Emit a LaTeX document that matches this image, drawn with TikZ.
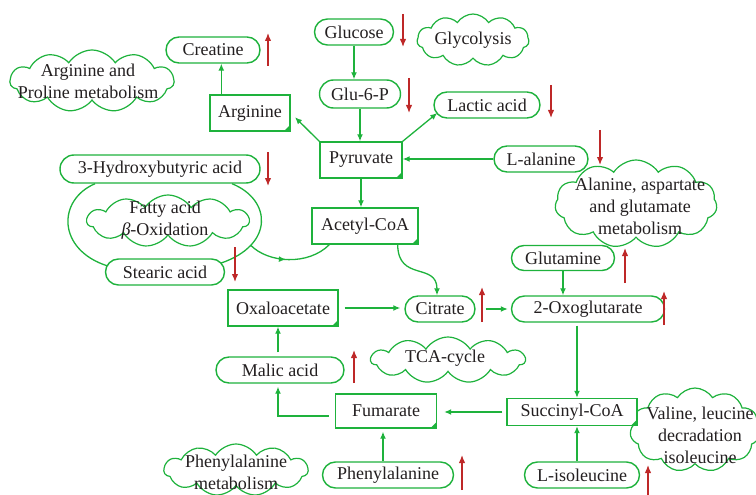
\documentclass[tikz,border=0pt]{standalone}
\usepackage{fontspec}
\setmainfont{Liberation Serif}
\usetikzlibrary{shapes.misc,shapes.symbols,shapes.geometric,arrows.meta,calc,decorations.markings,backgrounds}
\definecolor{grn}{RGB}{30,178,60}
\definecolor{rd}{RGB}{190,40,40}
\definecolor{txt}{RGB}{35,31,32}
\begin{document}
\begin{tikzpicture}[x=1pt,y=-1pt, font=\fontsize{18}{22}\selectfont, text=txt,
 pill/.style={rounded rectangle, draw=grn, line width=1.4pt, fill=white, minimum height=26pt, inner sep=2pt},
 box/.style={rectangle, draw=grn, line width=1.4pt, fill=white, inner sep=2pt,
   path picture={\fill[grn] ([xshift=-6pt]path picture bounding box.south east) -- (path picture bounding box.south east) -- ([yshift=6pt]path picture bounding box.south east) -- cycle;}},
 cloudy/.style={cloud, cloud puffs=11, cloud puff arc=115, cloud ignores aspect, draw=grn, line width=1.2pt, fill=white, inner sep=0pt},
 ctext/.style={align=center, inner sep=0pt},
 garr/.style={draw=grn, line width=1.3pt, -{Latex[length=7pt,width=6pt]}},
 gline/.style={draw=grn, line width=1.3pt},
 rarr/.style={draw=rd, line width=1.3pt, -{Latex[length=8pt,width=6.5pt]}},
]
\useasboundingbox (0,0) rectangle (756,495);

% clouds
\node[cloudy, minimum width=112pt, minimum height=52pt] (cglyc) at (473,40) {};
\node[ctext] (tglyc) at (473,40) {Glycolysis};
\node[cloudy, minimum width=164pt, minimum height=62pt] (cargpro) at (92,81) {};
\node[ctext] (targpro) at (88,81) {Arginine and\\Proline metabolism};
\node[cloudy, minimum width=162pt, minimum height=52pt] (cfatty) at (168,221) {};
\node[ctext] (tfatty) at (165,220) {Fatty acid\\\textit{β}-Oxidation};
\node[cloudy, minimum width=162pt, minimum height=88pt] (calan) at (636,204) {};
\node[ctext] (talan) at (640,206) {Alanine, aspartate\\and glutamate\\metabolism};
\node[cloudy, minimum width=154pt, minimum height=46pt] (ctca) at (448,360) {};
\node[ctext] (ttca) at (445,358) {TCA-cycle};
\node[cloudy, minimum width=130pt, minimum height=84pt] (cval) at (695,430) {};
\node[ctext] (tval) at (700,435) {Valine, leucine\\decradation\\isoleucine};
\node[cloudy, minimum width=144pt, minimum height=52pt] (cphe) at (236,470) {};
\node[ctext] (tphe) at (236,472) {Phenylalanine\\metabolism};

% nodes
\node[pill, minimum width=83pt] (glucose) at (354,32) {Glucose};
\node[pill, minimum width=85pt, minimum height=28pt] (g6p) at (360,94) {Glu-6-P};
\node[pill, minimum width=110pt] (lactic) at (487,105) {Lactic acid};
\node[box, minimum width=82pt, minimum height=36pt] (pyruvate) at (361,160) {Pyruvate};
\node[pill, minimum width=98pt] (alanine) at (541,159) {L-alanine};
\node[pill, minimum width=98pt] (creatine) at (213,50) {Creatine};
\node[box, minimum width=80pt, minimum height=36pt] (arginine) at (250,113) {Arginine};
\node[box, minimum width=106pt, minimum height=36pt] (acetyl) at (365,226) {Acetyl-CoA};
\node[pill, minimum width=204pt, minimum height=28pt] (hydroxy) at (160,169) {3-Hydroxybutyric acid};
\node[pill, minimum width=123pt] (stearic) at (165,272) {Stearic acid};
\node[box, minimum width=110pt, minimum height=36pt] (oxalo) at (283,308) {Oxaloacetate};
\node[pill, minimum width=74pt] (citrate) at (440,309) {Citrate};
\node[pill, minimum width=157pt] (oxoglu) at (588,309) {2-Oxoglutarate};
\node[pill, minimum width=107pt, minimum height=25pt] (glutamine) at (563,258) {Glutamine};
\node[box, minimum width=130pt, minimum height=27pt] (succinyl) at (572,412) {Succinyl-CoA};
\node[box, minimum width=101pt, minimum height=34pt] (fumarate) at (386,411) {Fumarate};
\node[pill, minimum width=132pt] (malic) at (280,370) {Malic acid};
\node[pill, minimum width=135pt] (phenyl) at (388,475) {Phenylalanine};
\node[pill, minimum width=119pt] (isoleu) at (582,475) {L-isoleucine};

% fatty acid loop
\begin{scope}[on background layer]
\draw[gline] ($(hydroxy.south)+(-65,0)$) .. controls (57,200) and (57,250) .. ($(stearic.west)+(3,-6)$);
\draw[gline] ($(hydroxy.south)+(72,0)$) .. controls (272,200) and (274,245) .. coordinate[pos=0.75] (loopout) ($(stearic.east)+(-4,-9)$);
\end{scope}

% green connectors
\draw[garr] (glucose.south) -- (glucose.south |- g6p.north);
\draw[garr] (g6p.south) -- (g6p.south |- pyruvate.north);
\draw[garr, shorten >=6pt] (pyruvate.north west) -- (arginine.east);
\draw[garr] (pyruvate.north east) -- ($(lactic.west)+(4,8)$);
\draw[garr] (alanine.west) -- (alanine.west -| pyruvate.east);
\draw[garr] ($(arginine.north west)+(12,0)$) coordinate (a1) -- (a1 |- creatine.south);
\draw[garr] (pyruvate.south) -- (pyruvate.south |- acetyl.north);
\draw[gline, postaction={decorate}, decoration={markings, mark=at position 0.45 with {\arrow{Latex[length=7pt,width=6pt]}}}]
  (loopout) .. controls (268,263) and (308,266) .. ($(acetyl.south west)+(18,0)$);
\draw[garr] ($(acetyl.south east)+(-21,0)$) .. controls (398,282) and (437,262) .. ($(citrate.north)+(-3,0)$);
\draw[garr, shorten <=6pt, shorten >=4pt] (oxalo.east) -- (oxalo.east -| citrate.west);
\draw[garr, shorten <=10pt, shorten >=3pt] (citrate.east) -- (citrate.east -| oxoglu.west);
\draw[garr] (glutamine.south) -- (glutamine.south |- oxoglu.north);
\draw[garr, shorten <=3pt] ($(oxoglu.south)+(-11,0)$) coordinate (o1) -- (o1 |- succinyl.north);
\draw[garr, shorten <=4pt, shorten >=7pt] (succinyl.west) -- (succinyl.west -| fumarate.east);
\draw[garr] ($(isoleu.north)+(-5,0)$) coordinate (i1) -- (i1 |- succinyl.south);
\draw[garr, shorten >=3pt] ($(phenyl.north)+(-5,0)$) coordinate (p1) -- (p1 |- fumarate.south);
\draw[garr] ($(fumarate.west)+(-6,5)$) -| ($(malic.south)+(-2,3)$);
\draw[garr, shorten <=4pt] ($(malic.north)+(-2,0)$) coordinate (m1) -- (m1 |- oxalo.south);

% red indicators
\draw[rarr] (403,14) -- (403,47);
\draw[rarr] (409,78) -- (409,113);
\draw[rarr] (551,85) -- (551,118);
\draw[rarr] (600,130) -- (600,165);
\draw[rarr] (268,66) -- (268,33);
\draw[rarr] (268,152) -- (268,186);
\draw[rarr] (235,247) -- (235,282);
\draw[rarr] (482,322) -- (482,287);
\draw[rarr] (664,325) -- (664,291);
\draw[rarr] (625,283) -- (625,248);
\draw[rarr] (354,383) -- (354,350);
\draw[rarr] (462,490) -- (462,455);
\draw[rarr] (648,496) -- (648,465);
\end{tikzpicture}
\end{document}
